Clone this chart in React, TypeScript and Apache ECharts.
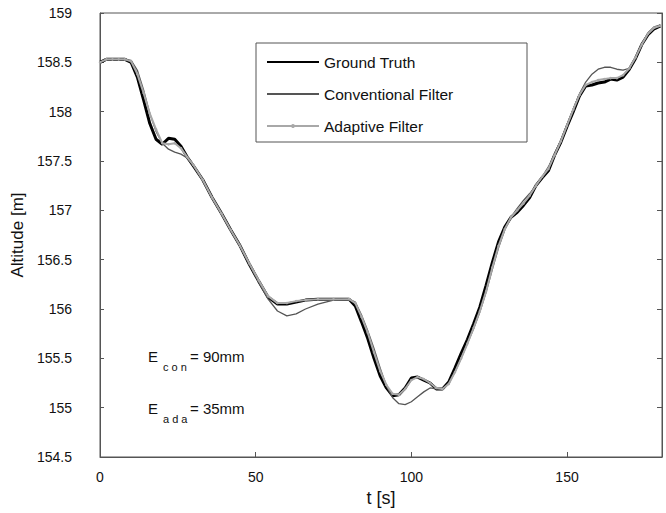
import React, { useEffect, useRef } from "react";
import * as echarts from "echarts";

const times = [0, 2, 4, 6, 8, 10, 12, 14, 16, 18, 20, 22, 24, 26, 28, 30, 33, 36, 39, 42, 45, 48, 51, 54, 57, 60, 63, 66, 70, 75, 80, 82, 84, 86, 88, 90, 92, 94, 96, 98, 100, 102, 104, 106, 108, 110, 112, 114, 116, 118, 120, 122, 124, 126, 128, 130, 132, 134, 136, 138, 140, 142, 144, 146, 148, 150, 152, 154, 156, 158, 160, 162, 164, 166, 168, 170, 172, 174, 176, 178, 180];

const groundTruth = [158.5, 158.53, 158.53, 158.53, 158.53, 158.5, 158.35, 158.12, 157.88, 157.72, 157.67, 157.73, 157.72, 157.65, 157.54, 157.45, 157.31, 157.13, 156.97, 156.8, 156.64, 156.45, 156.28, 156.12, 156.05, 156.05, 156.07, 156.09, 156.1, 156.1, 156.1, 156.03, 155.87, 155.7, 155.5, 155.32, 155.2, 155.12, 155.13, 155.2, 155.3, 155.31, 155.28, 155.25, 155.19, 155.19, 155.26, 155.4, 155.55, 155.69, 155.85, 156.02, 156.24, 156.47, 156.68, 156.83, 156.93, 156.98, 157.05, 157.13, 157.25, 157.33, 157.4, 157.56, 157.69, 157.85, 158.0, 158.16, 158.26, 158.27, 158.29, 158.3, 158.33, 158.32, 158.35, 158.43, 158.54, 158.68, 158.78, 158.84, 158.87];

const conventional = [158.5, 158.53, 158.53, 158.53, 158.53, 158.52, 158.42, 158.22, 157.98, 157.8, 157.68, 157.62, 157.59, 157.57, 157.53, 157.45, 157.3, 157.12, 156.96, 156.8, 156.63, 156.45, 156.27, 156.1, 155.98, 155.93, 155.95, 156.0, 156.05, 156.09, 156.1, 156.07, 155.94, 155.78, 155.6, 155.4, 155.22, 155.1, 155.04, 155.03, 155.06, 155.11, 155.16, 155.2, 155.19, 155.19, 155.25, 155.36, 155.5, 155.65, 155.8, 155.97, 156.17, 156.4, 156.62, 156.8, 156.93, 157.02, 157.1, 157.17, 157.25, 157.34, 157.44, 157.57, 157.71, 157.87, 158.03, 158.18, 158.3, 158.38, 158.43, 158.45, 158.45, 158.43, 158.42, 158.44, 158.55, 158.68, 158.8, 158.86, 158.88];

const adaptive = [158.5, 158.53, 158.53, 158.53, 158.53, 158.51, 158.38, 158.19, 157.98, 157.82, 157.68, 157.67, 157.68, 157.63, 157.54, 157.46, 157.31, 157.13, 156.97, 156.8, 156.64, 156.46, 156.29, 156.13, 156.06, 156.06, 156.08, 156.09, 156.1, 156.1, 156.1, 156.06, 155.92, 155.76, 155.56, 155.37, 155.23, 155.14, 155.13, 155.19, 155.28, 155.31, 155.29, 155.25, 155.2, 155.19, 155.24, 155.36, 155.5, 155.65, 155.81, 155.98, 156.18, 156.42, 156.64, 156.81, 156.93, 157.0, 157.07, 157.15, 157.25, 157.34, 157.42, 157.56, 157.7, 157.86, 158.02, 158.17, 158.27, 158.3, 158.32, 158.33, 158.34, 158.34, 158.37, 158.44, 158.55, 158.68, 158.79, 158.85, 158.87];

const seriesNames = ["Ground Truth", "Conventional Filter", "Adaptive Filter"];
const yTicks = { min: 154.5, max: 159, interval: 0.5 };
const xTicks = { min: 0, max: 180.5, interval: 50 };

const FONT = "Liberation Sans";

export default function App() {
  const ref = useRef<HTMLDivElement>(null);
  useEffect(() => {
    if (!ref.current) return;
    const chart = echarts.init(ref.current, undefined, { renderer: "svg" });
    const pairs = (vals: number[]) => times.map((t, i) => [t, vals[i]]);
    chart.setOption({
      animation: false,
      backgroundColor: "#fff",
      grid: { left: 100, top: 13, right: 4, bottom: 56, show: true, borderColor: "#555", borderWidth: 1, backgroundColor: "transparent" },
      legend: {
        orient: "vertical",
        left: 266,
        top: 54,
        padding: 0,
        itemWidth: 52,
        itemHeight: 5,
        itemGap: 16,
        textStyle: { fontFamily: FONT, fontSize: 15.5, color: "#111" },
        data: [
          { name: seriesNames[0], itemStyle: { opacity: 0 } },
          { name: seriesNames[1], itemStyle: { opacity: 0 } },
          { name: seriesNames[2] },
        ],
      },
      xAxis: {
        type: "value",
        min: xTicks.min,
        max: xTicks.max,
        interval: xTicks.interval,
        name: "t [s]",
        nameLocation: "middle",
        nameGap: 23,
        nameTextStyle: { fontFamily: FONT, fontSize: 18, color: "#111" },
        axisLine: { show: true, lineStyle: { color: "#555", width: 1 } },
        axisTick: { show: true, inside: true, length: 5, lineStyle: { color: "#555" } },
        axisLabel: { fontFamily: FONT, fontSize: 14, color: "#111", margin: 13, showMaxLabel: false },
        splitLine: { show: false },
      },
      yAxis: [
        {
          type: "value",
          min: yTicks.min,
          max: yTicks.max,
          interval: yTicks.interval,
          name: "Altitude [m]",
          nameLocation: "middle",
          nameGap: 71,
          nameTextStyle: { fontFamily: FONT, fontSize: 17, color: "#111" },
          axisLine: { show: true, lineStyle: { color: "#555", width: 1 } },
          axisTick: { show: true, inside: true, length: 4, lineStyle: { color: "#555" } },
          axisLabel: { fontFamily: FONT, fontSize: 14, color: "#111", margin: 28 },
          splitLine: { show: false },
        },
        {
          type: "value",
          position: "right",
          min: yTicks.min,
          max: yTicks.max,
          interval: yTicks.interval,
          axisLine: { show: true, lineStyle: { color: "#555", width: 1 } },
          axisTick: { show: true, inside: true, length: 5, lineStyle: { color: "#555" } },
          axisLabel: { show: false },
          splitLine: { show: false },
        },
      ],
      series: [
        {
          name: seriesNames[0],
          type: "line",
          data: pairs(groundTruth),
          showSymbol: false,
          symbol: "none",
          lineStyle: { color: "#000", width: 3 },
          itemStyle: { color: "#000" },
          z: 2,
        },
        {
          name: seriesNames[1],
          type: "line",
          data: pairs(conventional),
          showSymbol: false,
          symbol: "none",
          lineStyle: { color: "#555", width: 1.3 },
          itemStyle: { color: "#555" },
          z: 3,
        },
        {
          name: seriesNames[2],
          type: "line",
          data: pairs(adaptive),
          symbol: "circle",
          symbolSize: 2.5,
          showSymbol: true,
          lineStyle: { color: "#a8a8a8", width: 2 },
          itemStyle: { color: "#a8a8a8" },
          z: 4,
        },
      ],
      graphic: [
        { type: "rect", shape: { x: 256, y: 43, width: 271, height: 99 }, style: { fill: "none", stroke: "#555", lineWidth: 1 }, z: 1 },
        { type: "text", x: 148, y: 356, style: { text: "E", fontFamily: FONT, fontSize: 15, fill: "#111", verticalAlign: "middle" } },
        { type: "text", x: 163, y: 367, style: { text: "c o n", fontFamily: FONT, fontSize: 11, fill: "#111", verticalAlign: "middle" } },
        { type: "text", x: 190, y: 356, style: { text: "= 90mm", fontFamily: FONT, fontSize: 15, fill: "#111", verticalAlign: "middle" } },
        { type: "text", x: 148, y: 408, style: { text: "E", fontFamily: FONT, fontSize: 15, fill: "#111", verticalAlign: "middle" } },
        { type: "text", x: 163, y: 419, style: { text: "a d a", fontFamily: FONT, fontSize: 11, fill: "#111", verticalAlign: "middle" } },
        { type: "text", x: 190, y: 408, style: { text: "= 35mm", fontFamily: FONT, fontSize: 15, fill: "#111", verticalAlign: "middle" } },
      ],
    });
    return () => chart.dispose();
  }, []);
  return <div ref={ref} style={{ position: "fixed", left: 0, top: 0, width: 666, height: 513 }} />;
}
